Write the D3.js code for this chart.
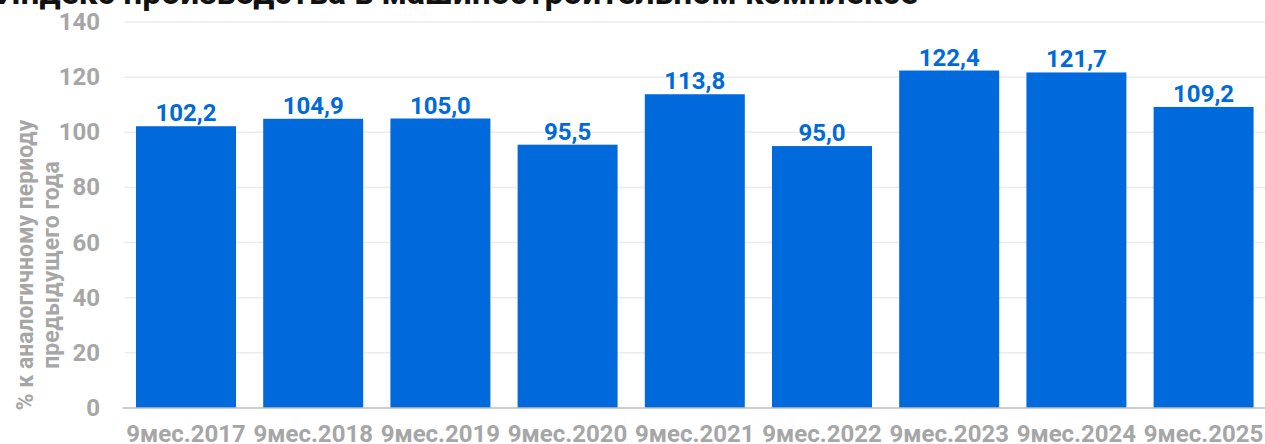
<html>
    <head>
        <meta charset="utf-8">
        <title>Индекс производства в машиностроительном комплексе</title>
        <script src="https://cdnjs.cloudflare.com/ajax/libs/d3/7.8.5/d3.min.js"></script>
        <style>
            body { margin: 0; background: #fff; }
            svg { display: block; font-family: Roboto, sans-serif; font-weight: bold; }
            .grid line { stroke: #ececec; stroke-width: 1.5; }
            .tick-label { fill: #a6a6a6; }
            .value { fill: #0069db; }
        </style>
    </head>
    <body>
        <svg id="chart" width="1265" height="444"></svg>
        <script>
            var title = "Индекс производства в машиностроительном комплексе";
            var yTitle = ["% к аналогичному периоду", "предыдущего года"];
            var categories = ["9мес.2017", "9мес.2018", "9мес.2019", "9мес.2020", "9мес.2021",
                              "9мес.2022", "9мес.2023", "9мес.2024", "9мес.2025"];
            var values = [102.2, 104.9, 105.0, 95.5, 113.8, 95.0, 122.4, 121.7, 109.2];
            var yTicks = [0, 20, 40, 60, 80, 100, 120, 140];

            var svg = d3.select("#chart");
            var mLeft = 122.4, mRight = 1267.2, mTop = 22, mBottom = 408;

            var x = d3.scaleBand()
                .domain(categories)
                .range([mLeft, mRight])
                .paddingInner(0.214)
                .paddingOuter(0.107);

            var y = d3.scaleLinear()
                .domain([0, 140])
                .range([mBottom, mTop]);

            var fmt = function(v) { return v.toFixed(1).replace(".", ","); };

            // grid
            svg.append("g").attr("class", "grid")
                .selectAll("line")
                .data(yTicks.filter(function(d) { return d > 0; }))
                .enter().append("line")
                .attr("x1", mLeft + 2).attr("x2", 1265)
                .attr("y1", function(d) { return y(d); })
                .attr("y2", function(d) { return y(d); });

            // bars
            svg.selectAll("rect.bar")
                .data(values)
                .enter().append("rect")
                .attr("class", "bar")
                .attr("fill", "#0069db")
                .attr("x", function(d, i) { return x(categories[i]); })
                .attr("width", x.bandwidth())
                .attr("y", function(d) { return y(d); })
                .attr("height", function(d) { return y(0) - y(d); });

            // baseline
            svg.append("line")
                .attr("x1", mLeft).attr("x2", 1265)
                .attr("y1", y(0)).attr("y2", y(0))
                .attr("stroke", "#bdbdbd").attr("stroke-width", 1.5);

            // value labels
            svg.selectAll("text.value")
                .data(values)
                .enter().append("text")
                .attr("class", "value")
                .attr("text-anchor", "middle")
                .style("font-size", "24px")
                .attr("x", function(d, i) { return x(categories[i]) + x.bandwidth() / 2; })
                .attr("y", function(d) { return y(d) - 5; })
                .text(fmt);

            // y tick labels
            svg.selectAll("text.ytick")
                .data(yTicks)
                .enter().append("text")
                .attr("class", "tick-label")
                .attr("text-anchor", "end")
                .attr("dominant-baseline", "central")
                .style("font-size", "24px")
                .attr("x", 100)
                .attr("y", function(d) { return y(d); })
                .text(function(d) { return d; });

            // x tick labels
            svg.selectAll("text.xtick")
                .data(categories)
                .enter().append("text")
                .attr("class", "tick-label")
                .attr("text-anchor", "middle")
                .style("font-size", "24px")
                .attr("x", function(d) { return x(d) + x.bandwidth() / 2; })
                .attr("y", 442)
                .text(function(d) { return d; });

            // y axis title
            svg.append("text")
                .attr("class", "tick-label")
                .attr("text-anchor", "middle")
                .style("font-size", "23px")
                .attr("transform", "translate(33,265) rotate(-90)")
                .selectAll("tspan")
                .data(yTitle)
                .enter().append("tspan")
                .attr("x", 0)
                .attr("dy", function(d, i) { return i ? 26 : 0; })
                .text(function(d) { return d; });

            // chart title (cut off at the top)
            svg.append("text")
                .attr("x", -3)
                .attr("y", 4)
                .attr("fill", "#111")
                .style("font-size", "33.6px")
                .text(title);
        </script>
    </body>
</html>
